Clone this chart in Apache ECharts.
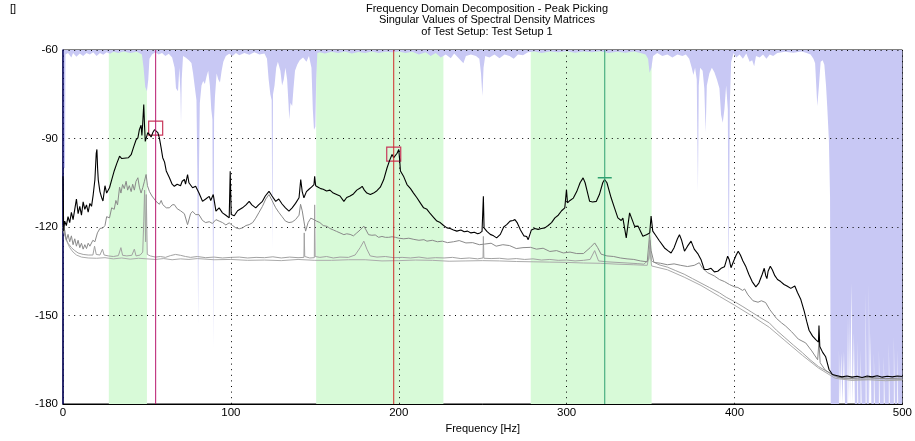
<!DOCTYPE html>
<html>
<head>
<meta charset="utf-8">
<script src="https://cdn.jsdelivr.net/npm/echarts@6/dist/echarts.min.js"></script>
<style>html,body{margin:0;padding:0;background:#fff}#c{width:915px;height:441px}</style>
</head>
<body>
<div id="c"></div>
<script>
// ---------- data ----------
const titleLines = ["Frequency Domain Decomposition - Peak Picking", "Singular Values of Spectral Density Matrices", "of Test Setup: Test Setup 1"];
const xTitle = "Frequency [Hz]";
const yMin = -180, yMax = -60, yStep = 30;
const xMin = 0, xMax = 500, xStep = 100;

// selected frequency bands [from, to] Hz
const bands = [[27.3, 50.0], [150.8, 226.6], [278.6, 350.6]];
// picked peaks
const peakFreqs = [55.2, 197.0, 322.7];
const peakValues = [-86.5, -95.3, -103.3];

// first singular value [Hz, dB]
const sv1 = [[0,-102.8],[0.4,-121.4],[1,-118],[2,-119.5],[3,-116.5],[4,-118.5],[5,-115],[6,-117.5],[7,-114],[8,-110.5],[9,-115.5],[10,-113],[11,-116],[12,-111.5],[13,-114],[14,-112.5],[15,-115],[16,-112],[17,-113],[18,-109],[19,-104],[19.8,-95],[20.2,-93.7],[20.6,-100],[21,-104],[22,-108],[23,-110],[23.8,-111.2],[25,-106],[26,-108.5],[27.7,-106.7],[29,-104],[30.5,-101],[32,-98.5],[33.7,-96],[35,-96.8],[37.6,-96.6],[39,-96.5],[40.6,-95.5],[42,-93],[43.5,-90.5],[44.6,-89.8],[45.5,-87],[46.5,-85.5],[47,-89],[47.5,-84.7],[48.1,-78.5],[48.6,-86],[49,-91],[49.5,-91.5],[50.5,-88],[51.5,-88.7],[52.5,-89.5],[53.5,-88],[54.5,-87],[55.4,-86.4],[56.5,-88],[57.4,-89.8],[58.4,-93],[59.4,-96.5],[60.5,-98],[61.5,-101],[63.4,-103.3],[65,-105.5],[66.3,-106.2],[68,-105.5],[70,-106],[71,-104.5],[72.3,-103.9],[73,-105.5],[74.2,-102.2],[75,-105],[77.2,-106.7],[79,-106.2],[81,-108.5],[83.1,-111.3],[85,-110.5],[87.1,-109.6],[88,-111],[89.5,-109],[91.1,-114.6],[93,-113.5],[95,-115.2],[97,-116],[99,-116.9],[99.6,-101.1],[100.2,-115.8],[102,-116.2],[104,-114.5],[106.9,-113.5],[109,-112.5],[110.9,-111.3],[112.5,-112.5],[114.8,-113.5],[116.5,-112.5],[118.8,-111.3],[120.5,-109.5],[122.7,-107.9],[124.5,-109.5],[126.7,-111.3],[128.5,-110.5],[130.5,-112.2],[132.5,-113.5],[134.6,-114.6],[136.5,-113.5],[138.5,-112],[140.6,-110.1],[141.6,-103.9],[142.5,-108],[143.5,-110.1],[145,-108],[146.5,-107.2],[148,-106.5],[149.5,-105.6],[149.9,-102.8],[150.5,-106],[152,-106.5],[153.5,-107],[155,-107.2],[157,-107.8],[159,-107.5],[161,-108.5],[163,-109],[165,-109.5],[167.3,-111.3],[169,-110],[171,-109.5],[173,-108.8],[175,-107.5],[177,-106.8],[178.2,-106.2],[179.5,-107.5],[181,-108.5],[183.1,-109],[185,-108.5],[187,-107.7],[189,-106.5],[191,-104],[193,-100],[194.5,-97.5],[196,-95.4],[197,-96.5],[198,-96.8],[199,-95],[200,-93.7],[200.5,-97],[201,-101],[203,-103],[204.9,-105.6],[207,-107],[208.8,-108.5],[210.8,-110.1],[213,-112],[214.8,-113.5],[216.8,-114],[218.8,-115.5],[220.7,-116.7],[222.7,-118],[224.7,-118.5],[226.7,-119.5],[228.7,-120.3],[230.6,-120.5],[232.6,-121],[234.6,-121.4],[237,-121],[239,-121.6],[241,-121.4],[243,-122],[245,-121.8],[247,-122.3],[248.4,-122],[249.6,-121.5],[250.4,-109.6],[250.8,-120.3],[252.5,-121.5],[254.5,-122.5],[256.5,-123],[258.3,-123.7],[260.5,-122.5],[262.5,-120],[264.3,-119.2],[266.3,-118],[268,-117.8],[269.2,-117.5],[270.5,-118.5],[272.5,-121],[274.5,-123],[276.2,-123.2],[277.1,-124.3],[279,-121],[281,-120.5],[283,-120.8],[285,-120.5],[287,-120.3],[289,-119.5],[291,-118.5],[293,-116.9],[295,-116],[297,-114.5],[298.9,-113.5],[299.9,-107.3],[300.5,-111.8],[302,-111],[304,-110.2],[306,-108],[308,-105],[309.8,-103.35],[311,-105],[312.5,-108.5],[313.7,-111.3],[315.5,-111.5],[317.7,-111.3],[319.5,-109],[321.5,-105],[322.6,-103.9],[324,-105],[326.5,-110.1],[328.5,-113.5],[330.5,-116.9],[332.5,-117.8],[333.5,-117],[335.5,-123.7],[337.5,-115.2],[339,-117.5],[340.5,-119.8],[342.5,-119.7],[345.4,-123.1],[347.5,-122.6],[349.5,-122],[350.3,-116.3],[351.3,-121.4],[353,-122.8],[355,-124.5],[358.3,-127.1],[360.3,-128],[362.2,-128.8],[364,-127],[366,-124],[367.2,-122.6],[368.5,-124.5],[370.2,-128.2],[372,-126.5],[374.1,-124.8],[376,-127.5],[378.1,-129],[380,-131],[382,-134.4],[384,-134.4],[386,-134],[388,-135.2],[390,-135],[392,-134],[394,-133.5],[395.9,-129.9],[396.8,-131],[397.9,-133.8],[399.5,-131.5],[401,-129.5],[402.2,-128.2],[403.5,-129.5],[405,-131.5],[406.8,-133.5],[408.5,-136],[410.5,-138.5],[412.7,-140.3],[414.5,-139],[416.5,-136],[417.7,-134],[418.6,-136.5],[419.3,-137.5],[420,-135],[421.3,-133.3],[422.5,-134.5],[424,-136.5],[425.6,-137.8],[427.5,-138.5],[429.5,-139.5],[431.5,-140.1],[433.5,-140.8],[435.9,-140],[437.5,-142.2],[439.5,-144.6],[441.5,-148.5],[443,-152],[444.4,-155],[446.5,-157],[448.4,-158.2],[450,-159],[450.3,-153.4],[450.8,-160.5],[452.5,-162.5],[454.3,-164],[456.3,-168.3],[458.3,-170],[461.2,-170.4],[464,-170.8],[467,-170.5],[470,-170.9],[473,-170.6],[476,-171],[479,-170.5],[482,-170.8],[485,-170.4],[488,-170.9],[491,-170.6],[494,-170.8],[497,-170.5],[500,-170.7]];

// second singular value
const sv2 = [[0,-119.5],[1,-121],[2,-124.5],[3,-122.5],[4,-125],[5,-123],[6,-126],[7,-124],[8,-126.5],[9,-124.5],[10,-127],[11,-125.5],[12,-127.5],[13,-126],[14,-127.3],[15,-125.5],[16,-126.5],[17.8,-124.5],[19,-125],[20.5,-122],[22,-120.5],[23.8,-120.3],[25,-119.5],[26,-116.5],[27.7,-116.9],[29,-113.5],[30.5,-114],[31.5,-111],[32.5,-112.5],[33.7,-106.5],[34.5,-108.5],[35.5,-105.6],[36.5,-107],[37.6,-104.5],[38.5,-107.5],[39.5,-106],[40.6,-108],[41.5,-105.5],[42.5,-107.5],[43.5,-104.5],[44.6,-103.3],[45.5,-106.5],[46.5,-108.5],[47.5,-106.7],[48.5,-104.5],[49.5,-102.2],[50.3,-106],[51.5,-108],[53,-109.5],[55.4,-111.3],[57.4,-112.3],[58.5,-111],[59.4,-112.4],[61.5,-113.5],[63.4,-113.5],[65,-112.5],[66.3,-112.4],[68,-113.8],[70,-114.5],[72.3,-115.5],[74.2,-119.2],[76,-115.5],[77.2,-114.7],[79,-115.8],[81,-115.8],[83.1,-117.8],[85,-118.5],[87.1,-118.2],[89,-118.8],[91.1,-117.5],[93,-118],[95,-118.5],[97,-119.3],[99,-118.6],[101,-119.5],[103,-120.3],[105,-120.6],[106.9,-120.3],[109,-119.5],[110.9,-119.2],[113,-118.5],[114.8,-117],[116.8,-115],[118.8,-113],[120.8,-110.5],[122.7,-109],[124.5,-111],[126.7,-113.5],[128.5,-115],[130.5,-116.5],[132.5,-118],[134.6,-118.5],[136.5,-118.3],[138.5,-117.5],[140.6,-116],[141.5,-112.3],[142.5,-114.5],[143.5,-118],[144.5,-121.4],[146,-118.5],[147.6,-117],[149.5,-117.5],[151,-118],[153,-118.5],[155,-119.5],[157.4,-119.8],[159,-120.5],[161,-121],[163,-121.5],[165,-122],[167.3,-122.6],[169,-122.3],[171,-122.5],[173,-123],[175,-122],[177,-121],[179.2,-119.7],[180.5,-121],[182,-122.6],[184,-122.8],[186,-122.7],[188,-123.5],[190,-123.2],[192,-123.5],[194,-123.5],[196,-123.3],[198,-123.5],[200,-123.8],[203,-124],[206,-123.8],[209,-124.2],[212,-124.5],[215,-124.3],[216.8,-124.8],[220,-124.5],[223,-125],[226,-124.8],[229,-125.3],[232.6,-125],[236,-124.6],[240,-125.4],[244,-125.3],[248,-126],[251,-125.8],[255,-125.5],[258,-126.5],[262,-126],[266,-126.3],[270,-127.3],[274,-127],[278.6,-126.9],[282,-127.5],[286,-127.2],[290,-128.3],[294,-128],[298,-128.8],[302,-128.5],[306,-129],[310,-129],[314,-127],[316.7,-125.4],[318.5,-127],[320.5,-129.2],[324,-129.8],[328,-130],[332,-130.5],[336,-130.8],[340,-131],[344,-131.5],[348,-131.8],[349.4,-122.5],[350.3,-128],[352,-132],[356,-132.3],[360,-132.8],[364,-132.5],[368,-133],[372,-133.4],[376,-133],[379,-132.1],[381,-134],[384,-135.5],[388,-136.6],[391,-137.8],[394,-138.5],[397,-139.5],[400,-140.3],[402,-140.5],[404.8,-141.5],[406,-141],[408,-143],[411,-145],[414,-145.5],[416,-145],[418.5,-145.6],[421,-148],[425,-151],[428,-152.5],[430.5,-153.6],[434,-155.5],[438,-158],[442.4,-159.3],[446,-162],[449.5,-165],[450.3,-159],[451,-166],[454,-168.5],[458.2,-170],[462,-171],[470,-171.3],[480,-171],[490,-171.4],[500,-171.2]];

// third singular value
const sv3 = [[0,-121],[1.5,-123.5],[3,-125.5],[5,-127],[7,-128],[9,-128.8],[12,-129.3],[15,-129.5],[17.8,-129.5],[18.8,-126.5],[19.8,-129.3],[22,-129.5],[23.5,-127.5],[24.5,-129.5],[27,-129.8],[30,-130],[33,-129.7],[34.5,-127],[35.5,-129.6],[38,-129.8],[41,-129.6],[42.5,-127.5],[43.5,-129.8],[46,-129.5],[47.5,-128.5],[48.1,-118],[48.6,-107.5],[49.2,-125],[49.6,-109],[50.2,-129.3],[52,-129.8],[55,-130.2],[58,-130],[61,-130.3],[64,-129.7],[67,-129.3],[70,-129.6],[73,-130],[76,-130.3],[80,-130],[85,-130.4],[90,-130.2],[95,-130.5],[100,-130.3],[105,-130.2],[110,-130.5],[115,-130.3],[120,-130.4],[125,-130.1],[130,-130.5],[135,-130.2],[140,-130.4],[143.5,-130.3],[143.7,-122],[144,-130],[147,-130.5],[149.7,-130.4],[149.9,-112.5],[150.2,-130],[153,-130.3],[157,-130],[161,-130.5],[165,-130.2],[170,-130.3],[174,-129.5],[177,-127],[179.2,-124.8],[181,-127.5],[183,-129.8],[187,-130.2],[192,-130],[197,-130.4],[202,-130.3],[207,-130.5],[212,-130.2],[217,-130.6],[222,-130.4],[227,-130.5],[232,-130.3],[237,-130.7],[242,-130.5],[247,-130.8],[250.2,-130.5],[250.4,-123.2],[250.7,-130.6],[255,-130.7],[260,-130.6],[265,-130.9],[270,-130.7],[275,-131],[280,-130.8],[285,-131.2],[290,-131],[295,-131.3],[300,-131.2],[305,-131.5],[310,-131.3],[314,-131],[316.7,-128],[319,-131.5],[324,-131.8],[330,-132],[336,-132.2],[342,-132.4],[346,-132.6],[349,-131],[349.6,-124.5],[350.5,-131.5],[355,-132.8],[360,-133.6],[365,-134.8],[370,-136],[375,-137.5],[380,-139],[385,-140.5],[391,-142.3],[395,-143.8],[400,-145.3],[405,-147],[410,-148.8],[415,-150.6],[420.7,-152.5],[425,-155],[430,-157.5],[435,-160],[440.4,-162.6],[445,-165],[450,-167.3],[456.3,-169.4],[460,-170.7],[465,-171.4],[475,-171.6],[485,-171.4],[500,-171.7]];

// fourth singular value
const sv4 = [[0,-120],[2,-124.5],[4,-127],[6,-128.5],[8,-129.5],[11,-130.2],[15,-130.5],[20,-130.6],[25,-130.4],[30,-130.8],[35,-130.5],[40,-130.9],[45,-130.6],[50,-130.8],[55,-131],[60,-130.7],[65,-131.1],[70,-130.8],[75,-131],[80,-130.7],[90,-131.1],[100,-131],[110,-131.3],[120,-131.2],[130,-131.4],[140,-131],[150,-131.3],[160,-131.3],[170,-131.1],[180,-131.1],[190,-131.5],[200,-131.4],[210,-131.2],[220,-131.3],[230,-131.6],[240,-131.5],[250,-131.4],[260,-131.5],[270,-131.7],[280,-131.8],[290,-131.9],[300,-132],[310,-132.2],[320,-132.3],[330,-132.6],[340,-132.8],[348,-133],[349.6,-128],[350.6,-133.2],[360,-134.5],[370,-137],[380,-139.8],[391,-143.5],[400,-146.5],[410,-150],[420.7,-154],[430,-158.5],[440.4,-163.5],[450,-167.8],[456.3,-170],[460,-171.3],[470,-172],[480,-171.8],[490,-172.1],[500,-171.9]];

// lower edge of the blue overlay hanging from the top [Hz, dB]
const overlayEdge = [[0,-100],[1.2,-100],[1.5,-61.5],[3,-61],[5,-62.5],[6,-61],[8,-62.3],[10,-61.2],[12,-62],[14,-61],[16,-61.5],[18,-60.8],[20,-62],[22,-61],[24,-61.6],[26,-60.8],[28,-61.3],[30,-60.6],[33,-61],[36,-60.5],[40,-61],[44,-60.6],[47,-61.5],[48,-66],[49,-72.5],[50,-74],[50.8,-70],[51.5,-63],[53,-61.5],[55,-60.8],[57,-61.5],[59,-61],[61,-62],[63,-61.3],[65,-62.5],[66.5,-66],[67.3,-73],[68.5,-74],[69.3,-66],[70,-75],[70.3,-85],[70.7,-70],[71.5,-62],[73,-62.5],[75,-63.5],[76.5,-64.4],[77.5,-68],[78.5,-72.5],[79.5,-77],[80,-100],[80.5,-153],[81,-100],[81.5,-78],[82.5,-72],[83.5,-70.5],[84.5,-71.5],[85.5,-69],[86.5,-67],[87.5,-72],[88.3,-80],[89,-83.6],[89.5,-161],[90,-83],[90.5,-76],[91.5,-68],[92.5,-70],[93.5,-71],[94.5,-67],[95.5,-64],[97,-62],[99,-61.3],[101,-62],[103,-61],[105,-61.8],[108,-61],[111,-61.6],[114,-60.8],[117,-61.5],[120,-61.2],[121.5,-63],[122.5,-70],[123.5,-75],[124.3,-77],[124.7,-128],[125.1,-75],[126,-72],[127,-66],[128,-64],[129.5,-67],[130.5,-72],[131.5,-70],[132.5,-66],[133.5,-70],[134.3,-78],[134.8,-83.6],[135.5,-78],[136.5,-79],[137.3,-73],[138.2,-67],[139.5,-65],[141,-63.5],[143,-62.5],[145,-64],[146.5,-62],[148,-66],[148.8,-80],[149.5,-87],[150.3,-86],[150.8,-70],[151.5,-61],[153,-60.8],[156,-61.2],[160,-60.6],[164,-61],[168,-60.5],[172,-61.2],[176,-60.7],[180,-61],[184,-60.5],[188,-61],[192,-60.6],[196,-60.8],[200,-60.5],[204,-61],[208,-60.6],[212,-61.5],[216,-60.8],[219,-62],[222,-61],[225,-62.5],[228,-61.5],[231,-62.8],[233,-61.2],[236,-63],[238.5,-64.5],[240,-62],[243,-61.5],[246,-62],[248,-63],[249,-68],[249.8,-75.6],[250.5,-66],[251.5,-62],[254,-62.5],[257,-61.5],[260,-62.8],[263,-61.5],[266,-62],[268.5,-63],[271,-61.5],[274,-61.8],[277,-60.8],[281,-60.5],[285,-61],[290,-60.5],[295,-60.8],[300,-60.4],[305,-60.9],[310,-60.5],[315,-60.8],[320,-60.4],[325,-61],[330,-60.6],[335,-60.9],[340,-60.5],[344,-61],[347,-61.5],[348.5,-63],[349.4,-67.7],[350.5,-66],[351.5,-62],[354,-61],[357,-62],[360,-61.5],[363,-62.5],[366,-61.5],[369,-62],[371,-61.5],[373,-63],[374.5,-66],[375.5,-68.5],[376.5,-66],[377.5,-70],[378.2,-108],[378.7,-72],[379.5,-66],[381,-67],[382,-73],[382.8,-88],[383.5,-72],[385,-68],[386.5,-66],[388,-67.5],[389.5,-70],[391,-73],[392,-82],[393,-84.7],[394,-80],[395,-72],[396,-80],[396.5,-141.7],[397.2,-78],[398,-64],[399.5,-61],[401,-62.5],[403,-61.5],[405,-63],[407,-61.2],[409,-64],[410.5,-63.5],[411.7,-65.5],[412.8,-62],[415,-62.5],[417,-61.5],[419,-63],[421,-61.5],[423,-62],[425.5,-61],[430,-60.6],[435,-60.9],[440,-60.5],[443,-61],[445.3,-61.5],[447,-63],[448,-64.5],[449.3,-79],[450.3,-72],[451.3,-64],[452.5,-63.5],[453.5,-65],[454.5,-72],[455.2,-79],[456.2,-90.3],[456.9,-110],[457.3,-180],[462.2,-180],[462.2,-161.6],[462.8,-161.6],[462.8,-180],[463.6,-180],[463.6,-162.7],[464.2,-162.7],[464.2,-180],[465.2,-180],[465.2,-162.1],[465.8,-162.1],[465.8,-180],[467.2,-180],[467.2,-150.3],[467.7,-150.3],[467.7,-180],[468.2,-180],[468.2,-149.7],[468.8,-149.7],[468.8,-180],[469.7,-180],[469.7,-138.9],[470.3,-138.9],[470.3,-180],[471.1,-180],[471.1,-155.9],[471.7,-155.9],[471.7,-180],[473.1,-180],[473.1,-158.2],[473.7,-158.2],[473.7,-180],[475.1,-180],[475.1,-161.6],[475.7,-161.6],[475.7,-180],[478.1,-180],[478.1,-141.8],[478.7,-141.8],[478.7,-180],[480.0,-180],[480.0,-139],[480.6,-139],[480.6,-180],[481.0,-180],[481.0,-155.9],[481.5,-155.9],[481.5,-180],[483.0,-180],[483.0,-162.7],[483.6,-162.7],[483.6,-180],[486.0,-180],[486.0,-161.6],[486.6,-161.6],[486.6,-180],[488.9,-180],[488.9,-163.8],[489.5,-163.8],[489.5,-180],[491.9,-180],[491.9,-159.3],[492.5,-159.3],[492.5,-180],[494.9,-180],[494.9,-157],[495.5,-157],[495.5,-180],[496.9,-180],[496.9,-161.6],[497.5,-161.6],[497.5,-180],[500,-180]];

// ---------- chart ----------
const FONT = "Liberation Sans, Arial, sans-serif";
const peakColors = ["#b8186e", "#d02a2a", "#2fa070"];
const boxColor = "#c8385a";

const chart = echarts.init(document.getElementById('c'), null, {renderer: 'canvas'});

const bandData = bands.map(b => [{xAxis: b[0]}, {xAxis: b[1]}]);
const peakMarks = peakFreqs.map((f, i) => i < 2
  ? {coord: [f, peakValues[i]], symbol: 'rect', symbolSize: 14, itemStyle: {color: 'rgba(0,0,0,0)', borderColor: boxColor, borderWidth: 1.2}}
  : {coord: [f, peakValues[i]], symbol: 'rect', symbolSize: [14, 1.5], itemStyle: {color: peakColors[2]}});

// each picked peak drawn as a vertical line series spanning the y axis range
const peakLineSeries = peakFreqs.map((f, i) => ({
  type: 'line', data: [[f, yMin], [f, yMax]], z: 7, silent: true, showSymbol: false,
  lineStyle: {color: peakColors[i], width: 1, type: 'solid'},
  emphasis: {disabled: true}
}));

const axisFont = {fontFamily: FONT, fontSize: 11.5, color: '#000'};
const dotted = {show: true, lineStyle: {color: '#000', type: [1, 4.6], width: 1}};

chart.setOption({
  animation: false,
  backgroundColor: '#fff',
  grid: {left: 63, right: 10, top: 50, bottom: 37, show: true, borderColor: '#000', borderWidth: 1, backgroundColor: 'transparent'},
  graphic: [
    {type: 'text', left: 10, top: 3, style: {text: '[]', font: '11px ' + FONT, fill: '#000'}},
    {type: 'text', x: 487, y: 3, style: {text: titleLines.join('\n'), font: '11px ' + FONT, fill: '#000', textAlign: 'center', lineHeight: 11.5}}
  ],
  xAxis: {
    type: 'value', min: xMin, max: xMax, interval: xStep, z: 3,
    name: xTitle, nameLocation: 'middle', nameGap: 17, nameTextStyle: {fontFamily: FONT, fontSize: 11, color: '#000'},
    axisLine: {show: true, lineStyle: {color: '#000', width: 1}},
    axisTick: {show: false},
    axisLabel: Object.assign({margin: 3}, axisFont),
    splitLine: dotted
  },
  yAxis: {
    type: 'value', min: yMin, max: yMax, interval: yStep, z: 3,
    axisLine: {show: true, lineStyle: {color: '#10106a', width: 1.5}},
    axisTick: {show: false},
    axisLabel: Object.assign({margin: 5}, axisFont),
    splitLine: dotted
  },
  series: [
    {
      type: 'line', data: [], z: 1, silent: true,
      markArea: {silent: true, itemStyle: {color: '#d8fad8'}, data: bandData}
    },
    {
      type: 'line', data: overlayEdge, z: 2, silent: true, showSymbol: false,
      lineStyle: {width: 0}, areaStyle: {origin: 'end', color: '#c8c8f4', opacity: 1}
    },
    {type: 'line', data: sv4, z: 5, showSymbol: false, silent: true, lineStyle: {color: '#ababab', width: 1}},
    {type: 'line', data: sv3, z: 5, showSymbol: false, silent: true, lineStyle: {color: '#a2a2a2', width: 1}},
    {type: 'line', data: sv2, z: 5, showSymbol: false, silent: true, lineStyle: {color: '#8a8a8a', width: 1}},
    ...peakLineSeries,
    {
      type: 'line', data: sv1, z: 6, showSymbol: false, silent: true, lineStyle: {color: '#000', width: 1.1},
      markPoint: {silent: true, label: {show: false}, data: peakMarks}
    }
  ]
});
</script>
</body>
</html>
